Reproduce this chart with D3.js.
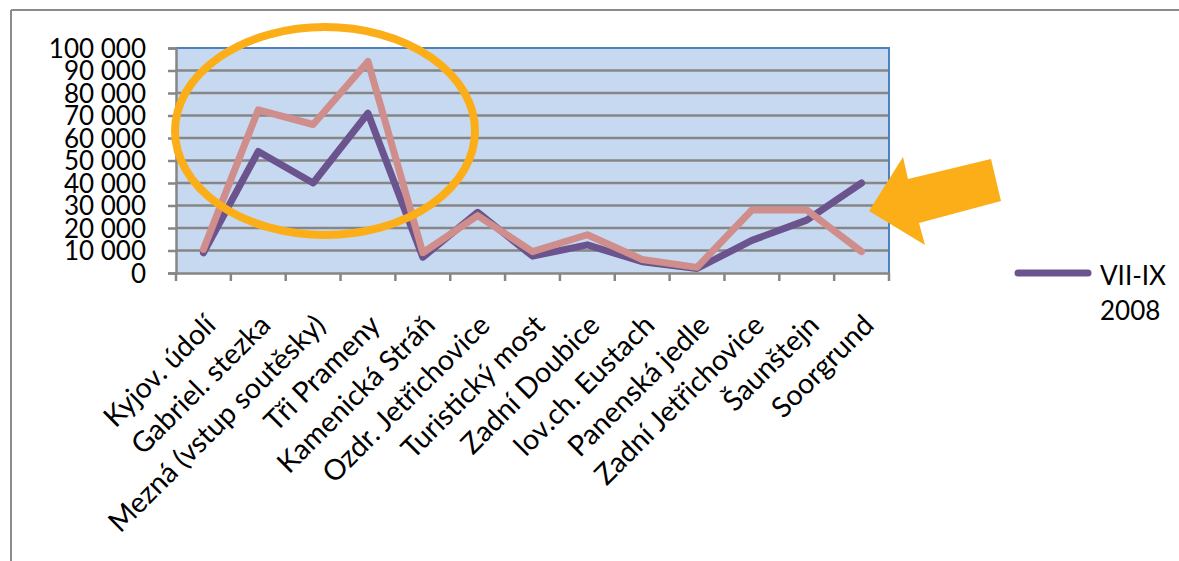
<!DOCTYPE html>
<html><head><meta charset="utf-8">
<script src="https://cdn.jsdelivr.net/npm/d3@7"></script>
<style>body{margin:0;background:#fff}svg{display:block}text{font-family:"Lato","Noto Sans",sans-serif;fill:#000}</style>
</head><body><svg id="c" width="1179" height="561"></svg>
<script>
const categories = ["Kyjov. údolí","Gabriel. stezka","Mezná (vstup soutěsky)","Tři Prameny","Kamenická Stráň","Ozdr. Jetřichovice","Turistický most","Zadní Doubice","lov.ch. Eustach","Panenská jedle","Zadní Jetřichovice","Šaunštejn","Soorgrund"];
const seriesVIIIX2008 = [9000,54000,40000,71000,7000,27000,7500,12500,5000,2000,14500,23500,40000];
const seriesOther = [10500,72500,66000,94000,9000,25500,9500,17000,6000,2500,28000,28000,9500];
const yTicks = [0,10000,20000,30000,40000,50000,60000,70000,80000,90000,100000];
const legendLabel = ["VII-IX","2008"];

const svg = d3.select("#c");
const L=176,R=889,T=48,B=273;
const x = d3.scaleBand().domain(categories).range([L,R]);
const y = d3.scaleLinear().domain([0,100000]).range([B,T]);
const fmt = v => d3.format(",")(v).replace(/,/g," ");

// outer frame
svg.append("line").attr("x1",11).attr("x2",1179).attr("y1",10).attr("y2",10).attr("stroke","#8c8c8c").attr("stroke-width",2);
svg.append("line").attr("x1",11).attr("x2",11).attr("y1",10).attr("y2",561).attr("stroke","#8c8c8c").attr("stroke-width",2);

// plot bg
svg.append("rect").attr("x",L).attr("y",T).attr("width",R-L).attr("height",B-T).attr("fill","#c6d9f0");
// gridlines
svg.append("g").selectAll("line").data(yTicks.filter(d=>d>0&&d<100000)).join("line")
 .attr("x1",L).attr("x2",R).attr("y1",d=>y(d)).attr("y2",d=>y(d)).attr("stroke","#868686").attr("stroke-width",2.5);
// top/right border blue
svg.append("path").attr("d",`M${L},${T}H${R}V${B}`).attr("fill","none").attr("stroke","#4f81bd").attr("stroke-width",2);

// y axis
const ya = svg.append("g").attr("transform",`translate(${L},0)`).call(d3.axisLeft(y).tickValues(yTicks).tickFormat(fmt).tickSize(8).tickPadding(22));
ya.select(".domain").attr("stroke","#868686").attr("stroke-width",2.5);
ya.selectAll(".tick line").attr("stroke","#868686").attr("stroke-width",2.5);
ya.selectAll(".tick text").attr("font-size",26).attr("font-family","Lato").attr("fill","#000").attr("dy","0.36em");

// x axis
const xa = svg.append("g").attr("transform",`translate(0,${B})`).call(d3.axisBottom(x).tickSize(0).tickFormat(""));
xa.select(".domain").attr("stroke","#868686").attr("stroke-width",2.5);
svg.append("g").selectAll("line").data(categories.concat(["__end"])).join("line")
 .attr("x1",(d,i)=>i<categories.length?x(d):R).attr("x2",(d,i)=>i<categories.length?x(d):R)
 .attr("y1",B).attr("y2",B+8).attr("stroke","#868686").attr("stroke-width",2.5);
svg.append("g").selectAll("text").data(categories).join("text")
 .attr("transform",d=>`translate(${x(d)+x.bandwidth()/2+14},${B+54}) rotate(-45)`)
 .attr("text-anchor","end").attr("font-size",28.5).text(d=>d);

// lines
const line = d3.line().x((d,i)=>x(categories[i])+x.bandwidth()/2).y(d=>y(d));
svg.append("path").datum(seriesVIIIX2008).attr("d",line).attr("fill","none").attr("stroke","#6b548d").attr("stroke-width",7).attr("stroke-linejoin","round").attr("stroke-linecap","round");
svg.append("path").datum(seriesOther).attr("d",line).attr("fill","none").attr("stroke","#cf8d8c").attr("stroke-width",7).attr("stroke-linejoin","round").attr("stroke-linecap","round");

// legend
svg.append("line").attr("x1",1018).attr("x2",1088).attr("y1",273).attr("y2",273).attr("stroke","#6b548d").attr("stroke-width",7).attr("stroke-linecap","round");
svg.append("g").selectAll("text").data(legendLabel).join("text")
 .attr("x",1100).attr("y",(d,i)=>285+i*35).attr("font-size",26).text(d=>d);

// annotations
svg.append("ellipse").attr("cx",325).attr("cy",131).attr("rx",150).attr("ry",104).attr("fill","none").attr("stroke","#fbae17").attr("stroke-width",8);
svg.append("polygon").attr("points","869,211 903,157 908,179 991,159 1001,201 919,223 925,245").attr("fill","#fbae17");
</script></body></html>
